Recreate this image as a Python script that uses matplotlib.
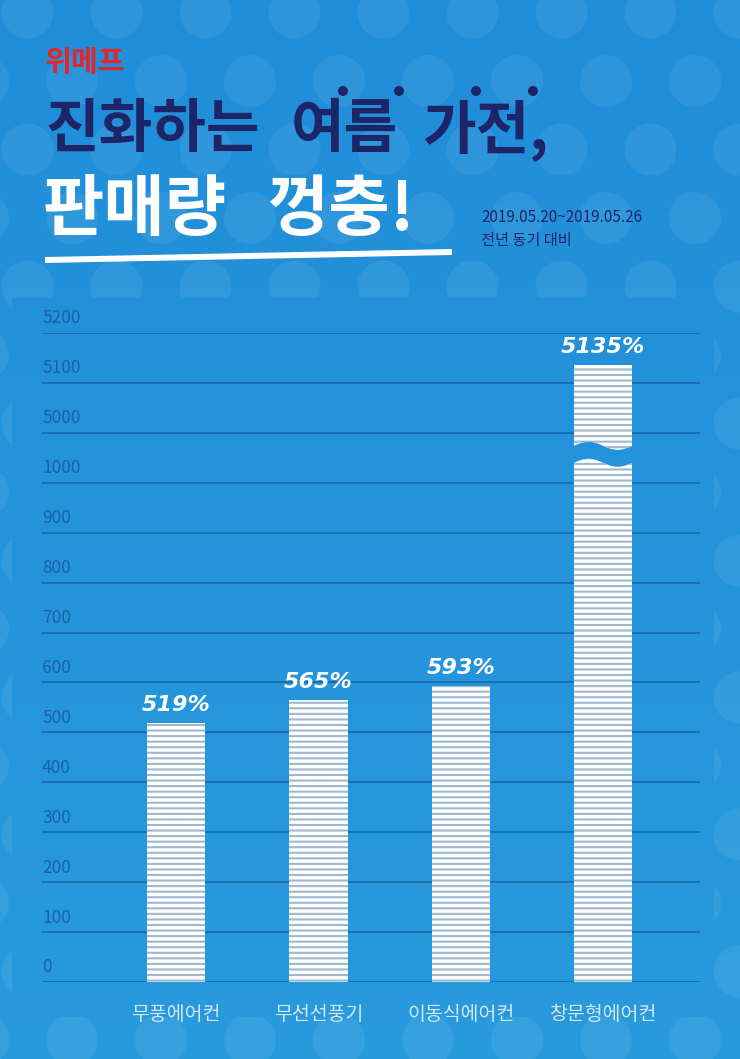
import matplotlib
matplotlib.use("Agg")
import matplotlib.pyplot as plt
import numpy as np
from matplotlib.path import Path
from matplotlib.patches import Circle, Polygon

plt.rcParams['font.family'] = ['Noto Sans CJK KR', 'DejaVu Sans']
plt.rcParams['hatch.linewidth'] = 1.5

categories = ["무풍에어컨", "무선선풍기", "이동식에어컨", "창문형에어컨"]
growth = [519, 565, 593, 5135]  # 전년 동기 대비 판매 증가율(%)
tick_values = [0, 100, 200, 300, 400, 500, 600, 700, 800, 900, 1000, 5000, 5100, 5200]

W, H = 740, 1059
NAVY = "#1e2468"
GRID = "#1a68a8"


def fwd(v):
    # broken y axis: 0-1000 and 5000-5200 at the same step, 1000-5000 squeezed into one step
    v = np.asarray(v, dtype=float)
    return np.where(v <= 1000, v / 100,
                    np.where(v <= 5000, 10 + (v - 1000) / 4000, 11 + (v - 5000) / 100))


def inv(u):
    u = np.asarray(u, dtype=float)
    return np.where(u <= 10, u * 100,
                    np.where(u <= 11, 1000 + (u - 10) * 4000, 5000 + (u - 11) * 100))


fig = plt.figure(figsize=(W / 100, H / 100), dpi=100)

# background: gradient + polka dots, dots hidden behind the chart panel
bg = fig.add_axes([0, 0, 1, 1], zorder=0)
bg.axis("off")
c_top = np.array([0.125, 0.555, 0.850])
c_bot = np.array([0.155, 0.605, 0.865])
t = np.linspace(0, 1, H)[:, None, None]
grad = c_top + (c_bot - c_top) * t
bg.imshow(grad, extent=[0, W, H, 0], aspect="auto", zorder=0)

for i in range(16):
    y = 1040 - 68.5 * i
    x0 = 72 if i % 2 == 0 else 27.5
    for k in range(-1, 9):
        bg.add_patch(Circle((x0 + 89 * k, y), 26, fc="white", alpha=0.07, lw=0, zorder=1))

p_top, p_bot, p_left, p_right = 298, 1017, 12, 714
bg.imshow(grad[p_top:p_bot], extent=[p_left, p_right, p_bot, p_top], aspect="auto", zorder=2)
bg.set_xlim(0, W)
bg.set_ylim(H, 0)

# title block
bg.text(45, 62, "위메프", fontsize=21, fontweight="bold", color="#e3262b",
        ha="left", va="center", zorder=5)
bg.text(45, 130, "진화하는", fontsize=42, fontweight="black", color=NAVY,
        ha="left", va="center", zorder=5)
bg.text(291, 130, "여름", fontsize=42, fontweight="black", color=NAVY,
        ha="left", va="center", zorder=5)
bg.text(422, 130, "가전,", fontsize=42, fontweight="black", color=NAVY,
        ha="left", va="center", zorder=5)
for dx in [343, 399, 476, 533]:
    bg.add_patch(Circle((dx, 91), 5, fc=NAVY, lw=0, zorder=5))

bg.text(43, 211, "판매량", fontsize=48, fontweight="black", color="white",
        ha="left", va="center", zorder=5)
bg.text(267, 211, "껑충!", fontsize=48, fontweight="black", color="white",
        ha="left", va="center", zorder=5)
bg.add_patch(Polygon([(45, 257), (452, 249), (452, 255), (45, 263)],
                     closed=True, fc="white", lw=0, zorder=5))

bg.text(481, 217, "2019.05.20~2019.05.26", fontsize=11, color=NAVY,
        ha="left", va="center", zorder=5)
bg.text(481, 240, "전년 동기 대비", fontsize=11, color=NAVY,
        ha="left", va="center", zorder=5)

# chart
ax = fig.add_axes([42 / W, 1 - 982 / H, (700 - 42) / W, (982 - 333) / H], zorder=3)
ax.patch.set_alpha(0)
ax.set_yscale("function", functions=(fwd, inv))
ax.set_ylim(0, 5200)
ax.set_xlim(-0.94, 3.68)

x = np.arange(len(categories))
bw = 0.41
bars = ax.bar(x, growth, width=bw, color="white", edgecolor="#9db8d0",
              hatch="---", linewidth=0, zorder=3)

# wavy break on the tallest bar
xs = np.linspace(x[3] - bw / 2 - 0.02, x[3] + bw / 2 + 0.02, 80)
ph = 2 * np.pi * (xs - (x[3] - bw / 2)) / bw
u_lo = 10.40 + 0.08 * np.sin(ph)
u_hi = 10.74 + 0.08 * np.sin(ph)
va_ = [(xs[0], -500)] + list(zip(xs, inv(u_lo))) + [(xs[-1], -500), (xs[0], -500)]
vb_ = [(xs[0], 9000)] + list(zip(xs, inv(u_hi))) + [(xs[-1], 9000), (xs[0], 9000)]
clip = Path.make_compound_path(Path(va_, closed=True), Path(vb_, closed=True))
bars[3].set_clip_path(clip, ax.transData)

ax.set_yticks(tick_values)
ax.yaxis.grid(True, color=GRID, lw=1.2)
ax.set_axisbelow(True)
ax.tick_params(axis="y", length=0, labelleft=False)
for v in tick_values:
    ax.annotate(str(v), xy=(0, v), xycoords=("axes fraction", "data"),
                xytext=(0, 4), textcoords="offset points", ha="left", va="bottom",
                fontsize=12.5, color="#1a62a3", annotation_clip=False)

ax.set_xticks(x)
ax.set_xticklabels(categories, fontsize=14, color="#d3e8f7")
ax.tick_params(axis="x", length=0, pad=16)
for s in ax.spines.values():
    s.set_visible(False)

for xi, v in zip(x, growth):
    ax.annotate(f"{v}%", xy=(xi, v), xytext=(0, 6), textcoords="offset points",
                ha="center", va="bottom", fontsize=16, fontweight="bold",
                fontstyle="italic", family="DejaVu Sans", color="white",
                annotation_clip=False)

fig.savefig("out.png", dpi=100)
